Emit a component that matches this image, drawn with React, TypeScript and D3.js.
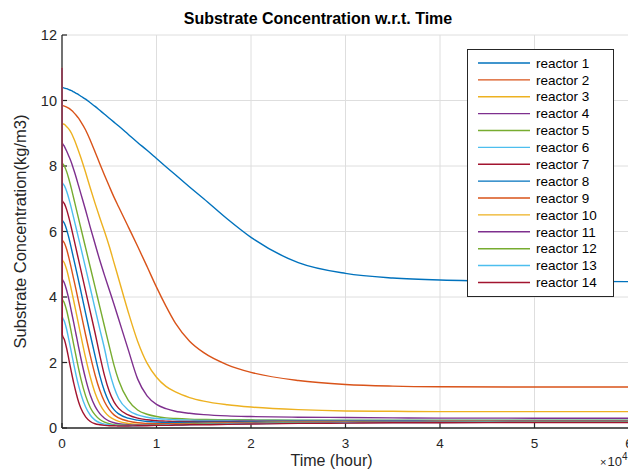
import React from "react";
import * as d3 from "d3";

const TIMES = [0, 30, 250, 500, 750, 1000, 1250, 1500, 1750, 2000, 2500, 3000, 3500, 4000, 4500, 5000, 5500, 6000, 7000, 8000, 9000, 10000, 11000, 12000, 13500, 15000, 17500, 20000, 25000, 30000, 35000, 40000, 50000, 60000];

const reactor1 = [11, 10.4, 10.38, 10.36, 10.33, 10.3, 10.26, 10.22, 10.18, 10.13, 10.04, 9.93, 9.82, 9.7, 9.58, 9.46, 9.34, 9.22, 8.97, 8.72, 8.48, 8.23, 7.98, 7.73, 7.36, 7.0, 6.38, 5.82, 5.05, 4.72, 4.58, 4.52, 4.48, 4.47];
const reactor2 = [11, 9.85, 9.83, 9.8, 9.76, 9.7, 9.63, 9.55, 9.46, 9.35, 9.1, 8.78, 8.43, 8.07, 7.72, 7.38, 7.05, 6.75, 6.15, 5.55, 4.93, 4.3, 3.72, 3.2, 2.65, 2.3, 1.93, 1.7, 1.45, 1.33, 1.28, 1.26, 1.25, 1.25];
const reactor3 = [11, 9.3, 9.27, 9.2, 9.12, 9.0, 8.84, 8.66, 8.46, 8.25, 7.8, 7.32, 6.86, 6.42, 6.0, 5.55, 5.05, 4.55, 3.55, 2.65, 1.98, 1.55, 1.27, 1.1, 0.93, 0.82, 0.71, 0.64, 0.56, 0.52, 0.51, 0.5, 0.5, 0.5];
const reactor4 = [11, 8.7, 8.6, 8.45, 8.28, 8.1, 7.88, 7.65, 7.4, 7.15, 6.65, 6.12, 5.62, 5.12, 4.66, 4.22, 3.78, 3.32, 2.4, 1.5, 0.98, 0.72, 0.59, 0.51, 0.45, 0.41, 0.37, 0.35, 0.33, 0.32, 0.31, 0.3, 0.3, 0.3];
const reactor5 = [11, 8.1, 8.0, 7.82, 7.58, 7.3, 7.0, 6.7, 6.4, 6.1, 5.5, 4.9, 4.3, 3.7, 3.1, 2.5, 1.92, 1.45, 0.85, 0.55, 0.42, 0.35, 0.31, 0.29, 0.27, 0.26, 0.25, 0.25, 0.24, 0.24, 0.24, 0.24, 0.24, 0.24];
const reactor6 = [11, 7.5, 7.4, 7.22, 6.98, 6.7, 6.4, 6.1, 5.8, 5.5, 4.88, 4.26, 3.64, 3.02, 2.42, 1.75, 1.25, 0.9, 0.55, 0.4, 0.33, 0.29, 0.27, 0.25, 0.24, 0.23, 0.23, 0.23, 0.23, 0.23, 0.23, 0.23, 0.23, 0.23];
const reactor7 = [11, 6.95, 6.85, 6.66, 6.4, 6.1, 5.78, 5.46, 5.14, 4.82, 4.18, 3.54, 2.9, 2.22, 1.6, 1.12, 0.8, 0.6, 0.4, 0.3, 0.25, 0.22, 0.21, 0.2, 0.2, 0.2, 0.2, 0.21, 0.21, 0.21, 0.21, 0.21, 0.21, 0.21];
const reactor8 = [11, 6.35, 6.25, 6.05, 5.78, 5.47, 5.15, 4.83, 4.5, 4.17, 3.5, 2.84, 2.2, 1.6, 1.12, 0.78, 0.56, 0.43, 0.3, 0.24, 0.2, 0.18, 0.17, 0.17, 0.17, 0.18, 0.18, 0.19, 0.2, 0.2, 0.2, 0.2, 0.2, 0.2];
const reactor9 = [11, 5.75, 5.65, 5.45, 5.17, 4.86, 4.53, 4.2, 3.86, 3.52, 2.84, 2.2, 1.62, 1.15, 0.8, 0.56, 0.4, 0.31, 0.21, 0.16, 0.14, 0.13, 0.13, 0.13, 0.14, 0.15, 0.16, 0.17, 0.18, 0.19, 0.19, 0.2, 0.2, 0.2];
const reactor10 = [11, 5.15, 5.04, 4.83, 4.54, 4.21, 3.87, 3.52, 3.17, 2.82, 2.14, 1.55, 1.07, 0.73, 0.5, 0.35, 0.26, 0.2, 0.14, 0.11, 0.1, 0.1, 0.1, 0.11, 0.12, 0.13, 0.15, 0.16, 0.18, 0.19, 0.19, 0.2, 0.2, 0.2];
const reactor11 = [11, 4.55, 4.43, 4.2, 3.9, 3.55, 3.2, 2.84, 2.48, 2.13, 1.5, 1.0, 0.66, 0.44, 0.3, 0.21, 0.16, 0.13, 0.1, 0.09, 0.09, 0.09, 0.1, 0.1, 0.11, 0.12, 0.14, 0.15, 0.17, 0.18, 0.19, 0.19, 0.2, 0.2];
const reactor12 = [11, 3.95, 3.82, 3.58, 3.26, 2.9, 2.53, 2.17, 1.82, 1.5, 0.98, 0.62, 0.4, 0.26, 0.18, 0.13, 0.1, 0.09, 0.08, 0.08, 0.08, 0.09, 0.09, 0.1, 0.11, 0.12, 0.13, 0.14, 0.16, 0.17, 0.18, 0.18, 0.19, 0.19];
const reactor13 = [11, 3.4, 3.26, 3.0, 2.66, 2.3, 1.94, 1.6, 1.3, 1.04, 0.64, 0.39, 0.24, 0.16, 0.12, 0.1, 0.08, 0.08, 0.07, 0.07, 0.08, 0.08, 0.09, 0.09, 0.1, 0.11, 0.12, 0.13, 0.15, 0.16, 0.17, 0.17, 0.18, 0.18];
const reactor14 = [11, 2.85, 2.7, 2.42, 2.06, 1.7, 1.36, 1.06, 0.8, 0.6, 0.34, 0.2, 0.13, 0.1, 0.08, 0.07, 0.07, 0.06, 0.06, 0.07, 0.07, 0.08, 0.08, 0.09, 0.1, 0.1, 0.11, 0.12, 0.14, 0.15, 0.16, 0.16, 0.17, 0.17];

const SERIES = [reactor1, reactor2, reactor3, reactor4, reactor5, reactor6, reactor7, reactor8, reactor9, reactor10, reactor11, reactor12, reactor13, reactor14];
const NAMES = SERIES.map((_, i) => `reactor ${i + 1}`);
const COLORS = ["#0072BD", "#D95319", "#EDB120", "#7E2F8E", "#77AC30", "#4DBEEE", "#A2142F"];

const X_TICKS = [0, 10000, 20000, 30000, 40000, 50000, 60000];
const X_TICK_LABELS = ["0", "1", "2", "3", "4", "5", "6"];
const Y_TICKS = [0, 2, 4, 6, 8, 10, 12];

const W = 628;
const H = 473;
const FONT = "'Liberation Sans', Arial, Helvetica, sans-serif";
const AX = "#262626";

export default function App() {
  const x = d3.scaleLinear().domain([0, 60000]).range([62, 629]);
  const y = d3.scaleLinear().domain([0, 12]).range([428, 35]);
  const line = d3
    .line<[number, number]>()
    .x((d) => x(d[0]))
    .y((d) => y(d[1]))
    .curve(d3.curveMonotoneX);

  const legX = 467.5;
  const legY = 49.5;
  const legW = 146;
  const legH = 247;
  const rowY0 = 63;
  const rowDy = 16.88;

  return (
    <div style={{ position: "fixed", left: 0, top: 0, width: W, height: H, background: "#fff" }}>
      <svg width={W} height={H} style={{ display: "block", fontFamily: FONT }}>
        <defs>
          <clipPath id="plotClip">
            <rect x={61} y={y(12) - 1} width={x(60000) - 61} height={y(0) - y(12) + 1} />
          </clipPath>
        </defs>
        <rect x={0} y={0} width={W} height={H} fill="#fff" />
        {/* grid */}
        {X_TICKS.slice(1).map((t) => (
          <line key={"gx" + t} x1={x(t)} x2={x(t)} y1={y(0)} y2={y(12)} stroke="#dedede" strokeWidth={1} />
        ))}
        {Y_TICKS.slice(1).map((t) => (
          <line key={"gy" + t} x1={x(0)} x2={x(60000)} y1={y(t)} y2={y(t)} stroke="#dedede" strokeWidth={1} />
        ))}
        {/* axes */}
        <line x1={x(0)} x2={x(0)} y1={y(0)} y2={y(12)} stroke={AX} strokeWidth={1.3} />
        <line x1={x(0)} x2={x(60000)} y1={y(0)} y2={y(0)} stroke={AX} strokeWidth={1.3} />
        {X_TICKS.map((t) => (
          <line key={"tx" + t} x1={x(t)} x2={x(t)} y1={y(0)} y2={y(0) - 5} stroke={AX} strokeWidth={1.2} />
        ))}
        {Y_TICKS.map((t) => (
          <line key={"ty" + t} x1={x(0)} x2={x(0) + 5} y1={y(t)} y2={y(t)} stroke={AX} strokeWidth={1.2} />
        ))}
        {/* data */}
        <g clipPath="url(#plotClip)">
          {SERIES.map((vals, i) => (
            <path
              key={"s" + i}
              d={line(TIMES.map((t, j) => [t, vals[j]] as [number, number])) || ""}
              fill="none"
              stroke={COLORS[i % COLORS.length]}
              strokeWidth={1.4}
            />
          ))}
        </g>
        {/* tick labels */}
        {Y_TICKS.map((t) => (
          <text key={"ly" + t} x={x(0) - 5} y={y(t)} dy="0.35em" textAnchor="end" fontSize={14.5} fill={AX}>
            {t}
          </text>
        ))}
        {X_TICKS.map((t, i) => (
          <text key={"lx" + t} x={x(t)} y={448} textAnchor="middle" fontSize={13.5} fill={AX}>
            {X_TICK_LABELS[i]}
          </text>
        ))}
        {/* exponent */}
        <text x={600} y={466} fontSize={13} fill={AX}>
          <tspan fontSize={11}>{"\u00d7"}</tspan>
          <tspan dx={1}>10</tspan>
          <tspan dy={-6} fontSize={10}>4</tspan>
        </text>
        {/* axis labels */}
        <text x={331.5} y={466} textAnchor="middle" fontSize={16} fill={AX}>
          Time (hour)
        </text>
        <text
          transform={`translate(26, ${(y(0) + y(12)) / 2}) rotate(-90)`}
          textAnchor="middle"
          fontSize={16.5}
          fill={AX}
        >
          Substrate Concentration(kg/m3)
        </text>
        {/* title */}
        <text x={318} y={24} textAnchor="middle" fontSize={16} fontWeight="bold" fill="#000">
          Substrate Concentration w.r.t. Time
        </text>
        {/* legend */}
        <rect x={legX} y={legY} width={legW} height={legH} fill="#fff" stroke={AX} strokeWidth={1} />
        {NAMES.map((n, i) => {
          const ry = rowY0 + i * rowDy;
          return (
            <g key={"lg" + i}>
              <line x1={478} x2={530} y1={ry} y2={ry} stroke={COLORS[i % COLORS.length]} strokeWidth={1.4} />
              <text x={536} y={ry} dy="0.35em" fontSize={13.5} fill="#000">
                {n}
              </text>
            </g>
          );
        })}
      </svg>
    </div>
  );
}
